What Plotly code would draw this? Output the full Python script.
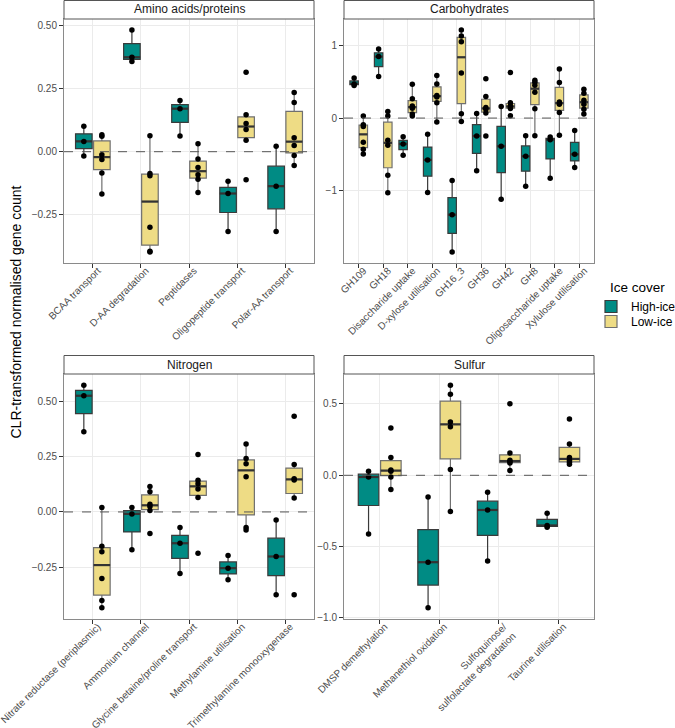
import numpy as np
import plotly.graph_objects as go

# ---------------- data ----------------
panel_titles = ["Amino acids/proteins", "Carbohydrates", "Nitrogen", "Sulfur"]
group_names = ["High-ice", "Low-ice"]
legend_title = "Ice cover"
y_title = "CLR-transformed normalised gene count"

aa_categories = ["BCAA transport", "D-AA degradation", "Peptidases",
                 "Oligopeptide transport", "Polar-AA transport"]
aa_high = [[-0.017, 0.041, 0.101], [0.358, 0.375, 0.483], [0.062, 0.171, 0.203],
           [-0.317, -0.166, -0.117], [-0.317, -0.137, 0.022]]
aa_low = [[-0.168, -0.085, -0.031, -0.012, 0.061, 0.067],
          [-0.398, -0.395, -0.300, -0.096, -0.087, 0.063],
          [-0.162, -0.109, -0.092, -0.063, -0.029, 0.032],
          [-0.111, 0.045, 0.088, 0.112, 0.147, 0.316],
          [-0.055, -0.015, 0.025, 0.055, 0.195, 0.235]]

carb_categories = ["GH109", "GH18", "Disaccharide uptake", "D-xylose utilisation",
                   "GH16_3", "GH36", "GH42", "GH8", "Oligosaccharide uptake",
                   "Xylulose utilisation"]
carb_high = [[0.446, 0.469, 0.551], [0.569, 0.843, 0.948], [-0.510, -0.355, -0.255],
             [-1.020, -0.574, -0.223], [-1.836, -1.326, -0.857], [-0.724, -0.246, 0.064],
             [-1.112, -0.387, 0.159], [-0.934, -0.524, -0.241], [-0.825, -0.296, -0.260],
             [-0.679, -0.497, -0.169]]
carb_low = [[-0.492, -0.428, -0.333, -0.114, -0.091, 0.027],
            [-1.025, -0.784, -0.374, -0.305, 0.027, 0.091],
            [0.027, 0.055, 0.135, 0.165, 0.265, 0.465],
            [-0.055, 0.210, 0.290, 0.310, 0.469, 0.583],
            [-0.046, 0.059, 0.620, 1.048, 1.125, 1.207],
            [-0.246, 0.068, 0.120, 0.145, 0.296, 0.538],
            [0.032, 0.130, 0.150, 0.169, 0.210, 0.624],
            [-0.241, 0.128, 0.355, 0.451, 0.492, 0.519],
            [-0.237, 0.077, 0.191, 0.219, 0.487, 0.674],
            [0.055, 0.120, 0.190, 0.245, 0.342, 0.396]]

nit_categories = ["Nitrate reductase (periplasmic)", "Ammonium channel",
                  "Glycine betaine/proline transport", "Methylamine utilisation",
                  "Trimethylamine monooxygenase"]
nit_high = [[0.364, 0.527, 0.575], [-0.172, -0.009, 0.020], [-0.279, -0.142, -0.071],
            [-0.307, -0.255, -0.198], [-0.376, -0.202, -0.036]]
nit_low = [[-0.435, -0.402, -0.302, -0.180, -0.156, 0.020],
           [-0.098, 0.006, 0.025, 0.035, 0.091, 0.115],
           [-0.187, 0.065, 0.104, 0.128, 0.144, 0.260],
           [-0.082, -0.071, 0.159, 0.218, 0.242, 0.308],
           [-0.376, 0.063, 0.145, 0.150, 0.215, 0.434]]

sul_categories = ["DMSP demethylation", "Methanethiol oxidation",
                  "Sulfoquinose/<br>sulfolactate degradation", "Taurine utilisation"]
sul_high = [[-0.411, -0.012, 0.028], [-0.929, -0.609, -0.152],
            [-0.600, -0.243, -0.119], [-0.364, -0.352, -0.266]]
sul_low = [[-0.100, -0.012, 0.028, 0.038, 0.124, 0.331],
           [-0.254, 0.040, 0.341, 0.373, 0.569, 0.632],
           [0.033, 0.086, 0.095, 0.105, 0.156, 0.502],
           [0.077, 0.091, 0.105, 0.125, 0.219, 0.394]]

panels = [
    (aa_categories, aa_high, aa_low, 0.25, ".2f"),
    (carb_categories, carb_high, carb_low, 1, "d"),
    (nit_categories, nit_high, nit_low, 0.25, ".2f"),
    (sul_categories, sul_high, sul_low, 0.5, ".1f"),
]

# ---------------- style ----------------
W, H = 675, 728
FONT = "Liberation Sans, Arial, sans-serif"
fill_colors = ["#008B84", "#EEDC85"]
edge_colors = ["#3a3a3a", "#707070"]
legend_names = ["legend", "legend2"]
legend_item_y = [306, 321]
dodge = 0.1875
box_w = 0.345
tick_font = dict(family=FONT, size=10, color="#4D4D4D")

# panel rectangles in pixels: (x0, x1, y_top, y_bottom)
panel_px = [(64, 314, 19, 263), (344, 594, 19, 263),
            (64, 314, 374, 619), (344, 594, 374, 619)]
strip_h = 19


def box_stats(v):
    v = np.asarray(v, dtype=float)
    q1, med, q3 = np.percentile(v, [25, 50, 75])
    iqr = q3 - q1
    lo = v[v >= q1 - 1.5 * iqr].min()
    hi = v[v <= q3 + 1.5 * iqr].max()
    return q1, med, q3, lo, hi


fig = go.Figure()
shapes = []
annotations = []
layout_axes = {}

for pi, (cats, high, low, dtick, fmt) in enumerate(panels):
    k = pi + 1
    xa = "x" if k == 1 else f"x{k}"
    ya = "y" if k == 1 else f"y{k}"
    n = len(cats)
    centers = np.arange(1, n + 1)
    all_vals = []
    for gi, (gname, gdata) in enumerate(zip(group_names, [high, low])):
        pos = centers + (-dodge if gi == 0 else dodge)
        stats = [box_stats(v) for v in gdata]
        q1s, meds, q3s, los, his = map(list, zip(*stats))
        fig.add_trace(go.Box(
            x=list(pos), q1=q1s, median=meds, q3=q3s, lowerfence=los, upperfence=his,
            width=box_w, whiskerwidth=0, boxpoints=False,
            fillcolor=fill_colors[gi], line=dict(color=edge_colors[gi], width=1.2),
            name=gname, legendgroup=gname, showlegend=(pi == 0), legend=legend_names[gi],
            xaxis=xa, yaxis=ya, hoverinfo="skip"))
        # thicker median segments
        mx, my = [], []
        for p, m in zip(pos, meds):
            mx += [p - box_w / 2, p + box_w / 2, None]
            my += [m, m, None]
        fig.add_trace(go.Scatter(x=mx, y=my, mode="lines",
                                 line=dict(color="#333333", width=2.2),
                                 showlegend=False, xaxis=xa, yaxis=ya, hoverinfo="skip"))
        # points
        px, py = [], []
        for p, v in zip(pos, gdata):
            px += [p] * len(v)
            py += list(v)
            all_vals += list(v)
        fig.add_trace(go.Scatter(x=px, y=py, mode="markers",
                                 marker=dict(color="black", size=5.5),
                                 showlegend=False, xaxis=xa, yaxis=ya, hoverinfo="skip"))
    vmin, vmax = min(all_vals), max(all_vals)
    span = vmax - vmin
    x0, x1, yt, yb = panel_px[pi]
    dom_x = [x0 / W, x1 / W]
    dom_y = [1 - yb / H, 1 - yt / H]
    axis_common = dict(showline=True, mirror=True, linecolor="#8a8a8a", linewidth=1,
                       gridcolor="#EBEBEB", gridwidth=1, zeroline=False, automargin=False,
                       ticks="outside", ticklen=4, tickcolor="#333333", tickwidth=1,
                       tickfont=tick_font, ticklabeloverflow="allow")
    layout_axes["xaxis" if k == 1 else f"xaxis{k}"] = dict(
        domain=dom_x, anchor=ya, range=[0.4, n + 0.6],
        tickmode="array", tickvals=list(centers), ticktext=cats, tickangle=-45,
        ticklabelstandoff=-7, ticklabelshift=5, **axis_common)
    layout_axes["yaxis" if k == 1 else f"yaxis{k}"] = dict(
        domain=dom_y, anchor=xa, range=[vmin - 0.05 * span, vmax + 0.05 * span],
        tick0=0, dtick=dtick, tickformat=fmt, **axis_common)
    # dashed zero line
    shapes.append(dict(type="line", xref=f"{xa} domain", yref=ya, x0=0, x1=1, y0=0, y1=0,
                       line=dict(color="#555555", width=1, dash="dash"), layer="above"))
    # strip
    shapes.append(dict(type="rect", xref="paper", yref="paper",
                       x0=x0 / W, x1=x1 / W, y0=1 - yt / H, y1=1 - (yt - strip_h + 0.5) / H,
                       fillcolor="white", line=dict(color="#555555", width=1)))
    annotations.append(dict(text=panel_titles[pi], xref="paper", yref="paper",
                            x=(x0 + x1) / 2 / W, y=1 - (yt - strip_h / 2) / H,
                            showarrow=False, xanchor="center", yanchor="middle",
                            font=dict(family=FONT, size=12, color="#1A1A1A")))

annotations.append(dict(text=y_title, xref="paper",
                        yref="paper", x=15.5 / W, y=1 - 312 / H, textangle=-90,
                        showarrow=False, xanchor="center", yanchor="middle",
                        font=dict(family=FONT, size=14, color="black")))
annotations.append(dict(text=legend_title, xref="paper", yref="paper",
                        x=608 / W, y=1 - 288 / H, showarrow=False,
                        xanchor="left", yanchor="middle",
                        font=dict(family=FONT, size=13.5, color="black")))

legend_common = dict(font=dict(family=FONT, size=12, color="black"),
                     xanchor="left", yanchor="top", itemwidth=30,
                     tracegroupgap=0, bgcolor="rgba(0,0,0,0)")

fig.update_layout(
    width=W, height=H, margin=dict(l=0, r=0, t=0, b=0, autoexpand=False),
    paper_bgcolor="white", plot_bgcolor="white",
    shapes=shapes, annotations=annotations,
    legend=dict(x=591 / W, y=1 - (legend_item_y[0] - 14) / H, **legend_common),
    legend2=dict(x=591 / W, y=1 - (legend_item_y[1] - 14) / H, **legend_common),
    **layout_axes,
)

fig.write_html("out.html", config={"displayModeBar": False},
               post_script="document.body.style.margin='0px';document.body.style.overflow='hidden';")
